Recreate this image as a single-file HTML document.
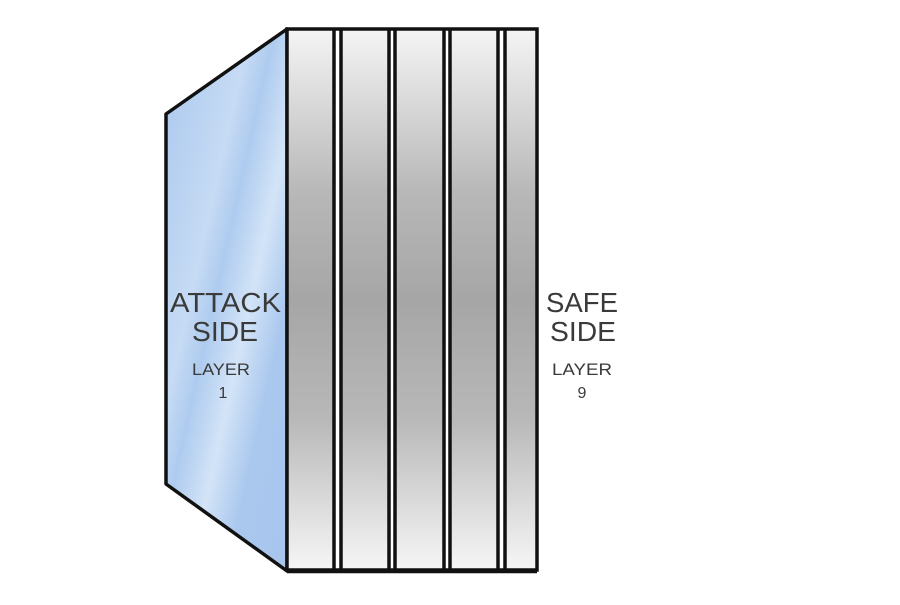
<!DOCTYPE html>
<html><head><style>html,body{margin:0;padding:0;background:#fff;}</style></head><body>
<svg width="900" height="600" viewBox="0 0 900 600" xmlns="http://www.w3.org/2000/svg">
<defs>
<linearGradient id="g" x1="0" y1="0" x2="0" y2="1">
<stop offset="0" stop-color="#f4f4f4"/>
<stop offset="0.3" stop-color="#b8b8b8"/>
<stop offset="0.5" stop-color="#a6a6a6"/>
<stop offset="0.72" stop-color="#b8b8b8"/>
<stop offset="1" stop-color="#f6f6f6"/>
</linearGradient>
<linearGradient id="b" x1="0" y1="0" x2="1" y2="1">
<stop offset="0" stop-color="#a9c7ee"/>
<stop offset="0.35" stop-color="#c6dbf4"/>
<stop offset="0.45" stop-color="#aecbef"/>
<stop offset="0.6" stop-color="#d3e4f7"/>
<stop offset="0.75" stop-color="#aac8ee"/>
<stop offset="1" stop-color="#a8c6ed"/>
</linearGradient>
</defs>
<polygon points="166,114 287,29 287,571 166,484" fill="url(#b)" stroke="#111" stroke-width="3.5" stroke-linejoin="round"/>
<rect x="287" y="29" width="250" height="542" fill="#fff"/>
<rect x="288" y="30" width="45" height="540" fill="url(#g)"/>
<rect x="342" y="30" width="46" height="540" fill="url(#g)"/>
<rect x="396" y="30" width="47" height="540" fill="url(#g)"/>
<rect x="451" y="30" width="46" height="540" fill="url(#g)"/>
<rect x="506" y="30" width="30" height="540" fill="url(#g)"/>
<g stroke="#111" stroke-width="3.5">
<line x1="334" y1="29" x2="334" y2="571"/><line x1="341" y1="29" x2="341" y2="571"/>
<line x1="389" y1="29" x2="389" y2="571"/><line x1="395" y1="29" x2="395" y2="571"/>
<line x1="444" y1="29" x2="444" y2="571"/><line x1="450" y1="29" x2="450" y2="571"/>
<line x1="498" y1="29" x2="498" y2="571"/><line x1="505" y1="29" x2="505" y2="571"/>
</g>
<rect x="287" y="29" width="250" height="541" fill="none" stroke="#111" stroke-width="3.5"/>
<line x1="287" y1="571" x2="537" y2="571" stroke="#111" stroke-width="4.5"/>
<g font-family="Liberation Sans, sans-serif" fill="#3a3a3a">
<text x="170" y="312" font-size="28" textLength="111" lengthAdjust="spacingAndGlyphs">ATTACK</text>
<text x="192" y="341" font-size="28" textLength="66" lengthAdjust="spacingAndGlyphs">SIDE</text>
<text x="192" y="375" font-size="16.5" textLength="58" lengthAdjust="spacingAndGlyphs">LAYER</text>
<text x="223" y="398" font-size="16" text-anchor="middle">1</text>
<text x="546" y="312" font-size="28" textLength="72" lengthAdjust="spacingAndGlyphs">SAFE</text>
<text x="550" y="341" font-size="28" textLength="66" lengthAdjust="spacingAndGlyphs">SIDE</text>
<text x="552" y="375" font-size="16.5" textLength="60" lengthAdjust="spacingAndGlyphs">LAYER</text>
<text x="582" y="398" font-size="16" text-anchor="middle">9</text>
</g>
</svg>
</body></html>
